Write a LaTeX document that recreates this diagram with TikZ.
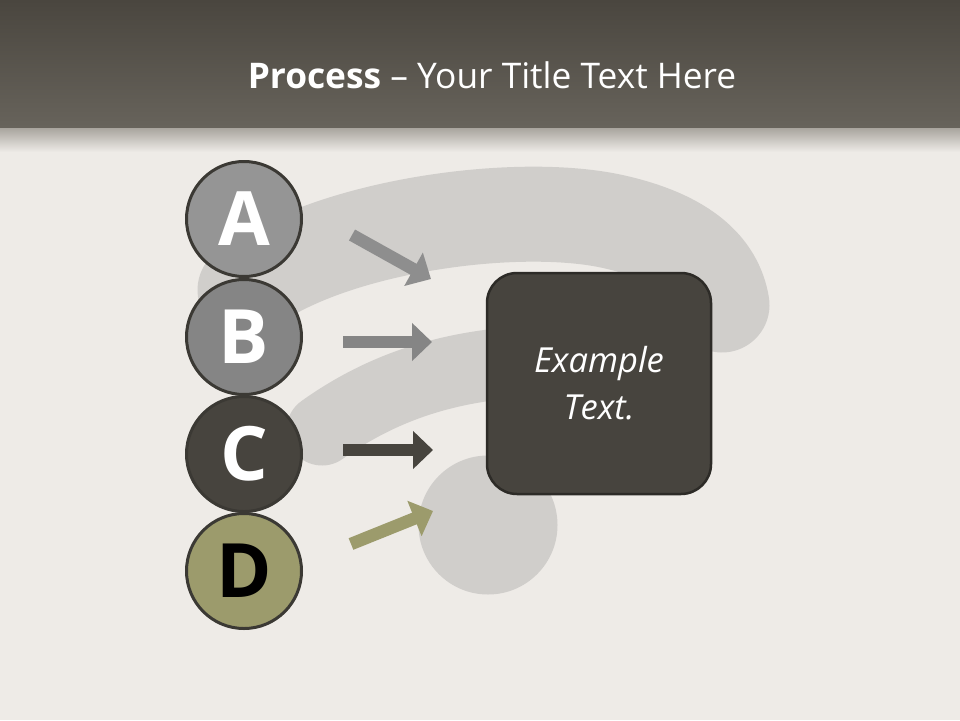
\documentclass[tikz,border=0pt]{standalone}
\usepackage{fontspec}
\setmainfont{Open Sans}
\usetikzlibrary{arrows.meta}
\definecolor{bg}{HTML}{EEEBE7}
\definecolor{banTop}{HTML}{4A463F}
\definecolor{banBot}{HTML}{67635B}
\definecolor{shadowTop}{HTML}{A39F98}
\definecolor{wifi}{HTML}{D0CECB}
\definecolor{cA}{HTML}{959595}
\definecolor{cB}{HTML}{858585}
\definecolor{cC}{HTML}{47443E}
\definecolor{cD}{HTML}{9C9B6C}
\definecolor{cborder}{HTML}{3B3934}
\definecolor{boxc}{HTML}{47443E}
\definecolor{boxborder}{HTML}{2D2B27}
\tikzset{
  wifiband/.style={draw=wifi, line cap=round},
  letter/.style={circle, minimum size=115pt, inner sep=0pt, draw=cborder, line width=3pt,
    font=\fontsize{75}{75}\selectfont\bfseries, text height=53pt, text depth=0pt},
  centerbox/.style={rectangle, rounded corners=30pt, minimum width=224pt, minimum height=221pt,
    fill=boxc, draw=boxborder, line width=2.5pt, align=center, text=white,
    font=\fontsize{34.5}{47}\selectfont\itshape},
  arr/.style={line width=12.5pt, -{Triangle[length=20pt,width=37pt]}},
  titletext/.style={anchor=base, text=white, font=\fontsize{35.3}{40}\selectfont}
}
\begin{document}
\begin{tikzpicture}[x=1pt,y=-1pt]
\useasboundingbox (0,0) rectangle (960,720);
\fill[bg] (0,0) rectangle (960,720);
\shade[top color=shadowTop, bottom color=bg] (0,126) rectangle (960,152);
\shade[top color=banTop, bottom color=banBot] (0,0) rectangle (960,127);
\node[titletext] (T) at (492,88) {\textbf{Process} – Your Title Text Here};
% background wifi symbol
\draw[wifiband, line width=95pt] (245,290) .. controls (330,225) and (520,200) .. (615,222)
  .. controls (685,238) and (716,268) .. (722,305);
\draw[wifiband, line width=71pt] (322,430) .. controls (385,385) and (450,367) .. (520,362) -- (600,366);
\fill[wifi] (488,525) circle (69.5);
% circles
\node[letter, fill=cA, text=white] (A) at (244,219) {A};
\node[letter, fill=cB, text=white] (B) at (244,337) {B};
\node[letter, fill=cC, text=white] (C) at (244,454) {C};
\node[letter, fill=cD, text=black] (D) at (244,571) {D};
% box
\node[centerbox] (E) at (599,383.5) {Example\\Text.};
% arrows
\coordinate (a1) at (352,235); \coordinate (a2) at (431,279);
\coordinate (b1) at (343,342); \coordinate (b2) at (432,342);
\coordinate (c1) at (343,450); \coordinate (c2) at (433,450);
\coordinate (d1) at (351,544); \coordinate (d2) at (433,511);
\draw[arr, draw=cA!95!black] (a1) -- (a2);
\draw[arr, draw=cB] (b1) -- (b2);
\draw[arr, draw=cC] (c1) -- (c2);
\draw[arr, draw=cD] (d1) -- (d2);
\end{tikzpicture}
\end{document}
